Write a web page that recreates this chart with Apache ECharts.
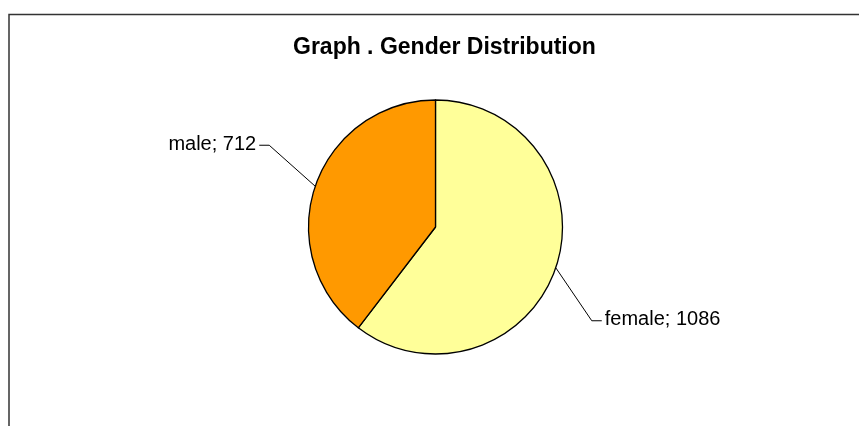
<!DOCTYPE html>
<html>
<head>
<meta charset="utf-8">
<title>Gender Distribution</title>
<script src="https://cdn.jsdelivr.net/npm/echarts@6/dist/echarts.min.js"></script>
<style>
  html, body { margin: 0; padding: 0; background: #fff; }
  #main { width: 859px; height: 426px; }
</style>
</head>
<body>
<div id="main"></div>
<script>
// data
var categories = ['female', 'male'];
var counts = [1086, 712];
var sliceColors = ['#FFFF99', '#FF9900'];

// leader line bends (offset from the slice edge to the elbow), per slice
var bends = [[36, 53], [-46, -41]];

var pieData = [];
for (var i = 0; i < categories.length; i++) {
  pieData.push({
    name: categories[i],
    value: counts[i],
    itemStyle: { color: sliceColors[i] }
  });
}

var myChart = echarts.init(document.getElementById('main'));

var option = {
  backgroundColor: '#fff',
  animation: false,
  textStyle: { fontFamily: 'Liberation Sans, Arial, sans-serif' },
  title: {
    text: 'Graph . Gender Distribution',
    left: 288,
    top: 31,
    textStyle: {
      fontSize: 23,
      fontWeight: 'bold',
      color: '#000',
      fontFamily: 'Liberation Sans, Arial, sans-serif'
    }
  },
  graphic: [{
    type: 'rect',
    shape: { x: 9, y: 14.5, width: 900, height: 500 },
    style: { fill: null, stroke: '#333', lineWidth: 1.5 },
    silent: true
  }],
  series: [{
    type: 'pie',
    center: [435.5, 227],
    radius: 127,
    startAngle: 90,
    clockwise: true,
    itemStyle: { borderColor: '#000', borderWidth: 1.3 },
    label: {
      show: true,
      position: 'outside',
      formatter: '{b}; {c}',
      color: '#000',
      fontSize: 20,
      fontFamily: 'Liberation Sans, Arial, sans-serif'
    },
    labelLine: {
      show: true,
      length: 40,
      length2: 10,
      smooth: false,
      lineStyle: { color: '#000', width: 1 }
    },
    labelLayout: function (params) {
      var pts = params.labelLinePoints;
      var p0 = pts[0];
      var off = bends[params.dataIndex];
      var dir = off[0] < 0 ? -1 : 1;
      var p1 = [p0[0] + off[0], p0[1] + off[1]];
      var p2 = [p1[0] + dir * 10, p1[1]];
      return {
        x: p2[0] + dir * 3,
        y: p2[1] - 1,
        align: dir < 0 ? 'right' : 'left',
        verticalAlign: 'middle',
        labelLinePoints: [p0, p1, p2]
      };
    },
    emphasis: { disabled: true },
    data: pieData
  }]
};

myChart.setOption(option);
</script>
</body>
</html>
